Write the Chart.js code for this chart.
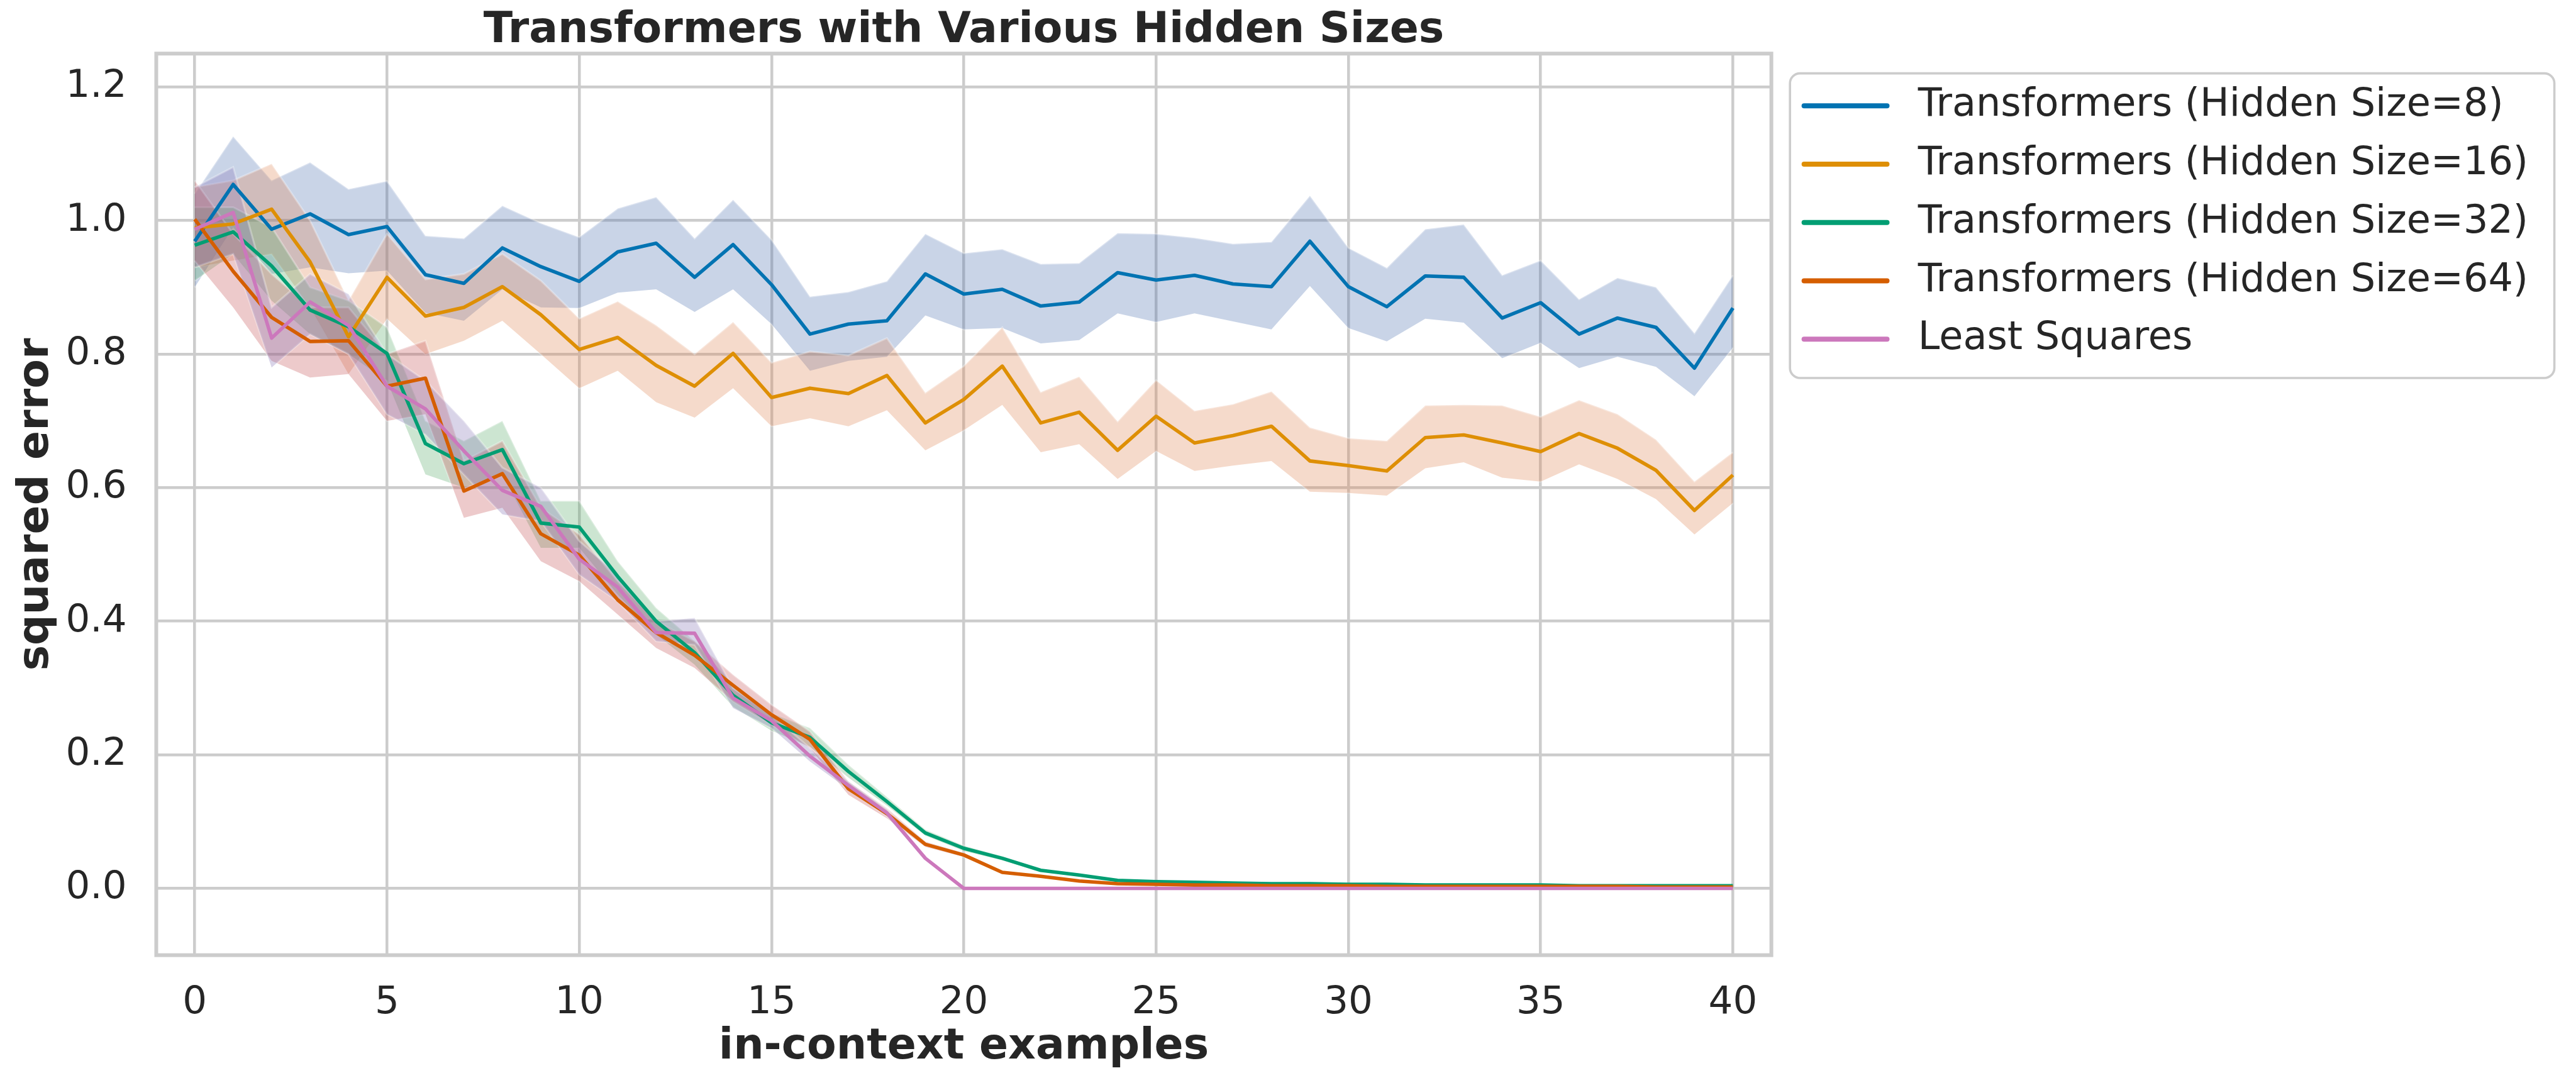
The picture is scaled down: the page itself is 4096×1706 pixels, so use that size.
<!DOCTYPE html>
<html>
<head>
<meta charset="utf-8">
<script src="https://cdn.jsdelivr.net/npm/chart.js@4.4.1/dist/chart.umd.min.js"></script>
<style>
  html, body { margin: 0; padding: 0; background: #fff; }
  #wrap { width: 4096px; height: 1706px; }
</style>
</head>
<body>
<div id="wrap"><canvas id="lossChart" width="4096" height="1706"></canvas></div>
<script>
const examples = [0, 1, 2, 3, 4, 5, 6, 7, 8, 9, 10, 11, 12, 13, 14, 15, 16, 17, 18, 19, 20,
  21, 22, 23, 24, 25, 26, 27, 28, 29, 30, 31, 32, 33, 34, 35, 36, 37, 38, 39, 40];
const xTicks = [0, 5, 10, 15, 20, 25, 30, 35, 40];
const yTicks = [0, 0.2, 0.4, 0.6, 0.8, 1.0, 1.2];

const seriesNames = [
  "Transformers (Hidden Size=8)",
  "Transformers (Hidden Size=16)",
  "Transformers (Hidden Size=32)",
  "Transformers (Hidden Size=64)",
  "Least Squares",
];

// mean curves
const h8Mean = [0.969, 1.054, 0.987, 1.010, 0.979, 0.991, 0.919, 0.906, 0.959, 0.931, 0.909,
  0.953, 0.966, 0.915, 0.964, 0.904, 0.830, 0.845, 0.850, 0.920, 0.890,
  0.897, 0.872, 0.878, 0.922, 0.911, 0.918, 0.905, 0.901, 0.969, 0.901,
  0.871, 0.917, 0.915, 0.854, 0.877, 0.830, 0.854, 0.840, 0.779, 0.869];
const h16Mean = [0.989, 0.995, 1.017, 0.938, 0.826, 0.915, 0.857, 0.870, 0.901, 0.859, 0.807,
  0.825, 0.783, 0.752, 0.801, 0.735, 0.749, 0.741, 0.768, 0.697, 0.732,
  0.782, 0.697, 0.713, 0.656, 0.707, 0.667, 0.678, 0.692, 0.640, 0.633,
  0.625, 0.675, 0.679, 0.667, 0.654, 0.681, 0.659, 0.626, 0.566, 0.619];
const h32Mean = [0.963, 0.983, 0.932, 0.866, 0.841, 0.801, 0.666, 0.636, 0.657, 0.547, 0.541,
  0.467, 0.400, 0.353, 0.289, 0.248, 0.226, 0.175, 0.130, 0.083, 0.060,
  0.045, 0.027, 0.020, 0.012, 0.010, 0.009, 0.008, 0.007, 0.007, 0.006,
  0.006, 0.005, 0.005, 0.005, 0.005, 0.004, 0.004, 0.004, 0.004, 0.004];
const h64Mean = [1.002, 0.924, 0.855, 0.819, 0.820, 0.752, 0.764, 0.595, 0.621, 0.531, 0.499,
  0.432, 0.383, 0.349, 0.304, 0.260, 0.223, 0.149, 0.112, 0.066, 0.050,
  0.024, 0.018, 0.011, 0.007, 0.006, 0.005, 0.005, 0.004, 0.004, 0.004,
  0.003, 0.003, 0.003, 0.003, 0.003, 0.003, 0.003, 0.002, 0.002, 0.002];
const lsMean = [0.987, 1.012, 0.824, 0.878, 0.843, 0.752, 0.718, 0.655, 0.596, 0.572, 0.493,
  0.451, 0.383, 0.382, 0.285, 0.251, 0.198, 0.154, 0.113, 0.045, 0,
  0, 0, 0, 0, 0, 0, 0, 0, 0, 0,
  0, 0, 0, 0, 0, 0, 0, 0, 0, 0];

// confidence bands (lower / upper)
const h8Lo = [0.900, 0.990, 0.920, 0.930, 0.921, 0.925, 0.862, 0.850, 0.897, 0.870, 0.869,
  0.892, 0.897, 0.863, 0.897, 0.845, 0.775, 0.790, 0.796, 0.858, 0.837,
  0.839, 0.816, 0.821, 0.861, 0.848, 0.861, 0.849, 0.837, 0.902, 0.839,
  0.819, 0.853, 0.847, 0.794, 0.817, 0.779, 0.796, 0.781, 0.737, 0.810];
const h8Hi = [1.040, 1.126, 1.060, 1.087, 1.047, 1.059, 0.977, 0.973, 1.022, 0.996, 0.975,
  1.018, 1.035, 0.973, 1.031, 0.971, 0.886, 0.893, 0.909, 0.980, 0.951,
  0.957, 0.935, 0.936, 0.981, 0.980, 0.974, 0.965, 0.968, 1.037, 0.959,
  0.929, 0.987, 0.994, 0.918, 0.940, 0.882, 0.914, 0.900, 0.831, 0.918];
const h16Lo = [0.930, 0.940, 0.950, 0.870, 0.770, 0.853, 0.800, 0.820, 0.850, 0.800, 0.749,
  0.775, 0.728, 0.705, 0.749, 0.692, 0.704, 0.692, 0.716, 0.656, 0.686,
  0.724, 0.653, 0.665, 0.613, 0.655, 0.625, 0.633, 0.640, 0.594, 0.592,
  0.588, 0.629, 0.638, 0.615, 0.609, 0.635, 0.613, 0.583, 0.530, 0.577];
const h16Hi = [1.050, 1.060, 1.085, 1.000, 0.880, 0.980, 0.912, 0.920, 0.950, 0.910, 0.853,
  0.879, 0.843, 0.800, 0.848, 0.787, 0.804, 0.798, 0.824, 0.742, 0.782,
  0.840, 0.743, 0.766, 0.699, 0.761, 0.715, 0.725, 0.744, 0.690, 0.674,
  0.670, 0.723, 0.724, 0.723, 0.706, 0.731, 0.710, 0.672, 0.609, 0.653];
const h32Lo = [0.910, 0.950, 0.880, 0.830, 0.800, 0.760, 0.620, 0.600, 0.620, 0.510, 0.510,
  0.440, 0.380, 0.335, 0.272, 0.236, 0.212, 0.166, 0.124, 0.079, 0.056,
  0.042, 0.025, 0.018, 0.011, 0.009, 0.008, 0.007, 0.006, 0.006, 0.005,
  0.005, 0.004, 0.004, 0.004, 0.004, 0.003, 0.003, 0.003, 0.003, 0.003];
const h32Hi = [1.020, 1.020, 0.990, 0.900, 0.880, 0.840, 0.700, 0.670, 0.700, 0.580, 0.580,
  0.490, 0.420, 0.370, 0.305, 0.262, 0.240, 0.185, 0.137, 0.088, 0.064,
  0.048, 0.029, 0.022, 0.013, 0.011, 0.010, 0.009, 0.008, 0.008, 0.007,
  0.007, 0.006, 0.006, 0.006, 0.006, 0.005, 0.005, 0.005, 0.005, 0.005];
const h64Lo = [0.940, 0.870, 0.790, 0.765, 0.770, 0.700, 0.710, 0.555, 0.570, 0.490, 0.460,
  0.410, 0.360, 0.330, 0.280, 0.245, 0.210, 0.140, 0.105, 0.062, 0.047,
  0.022, 0.016, 0.010, 0.006, 0.005, 0.004, 0.004, 0.003, 0.003, 0.003,
  0.002, 0.002, 0.002, 0.002, 0.002, 0.002, 0.002, 0.001, 0.001, 0.001];
const h64Hi = [1.060, 0.980, 0.920, 0.870, 0.870, 0.800, 0.820, 0.640, 0.670, 0.570, 0.530,
  0.460, 0.400, 0.370, 0.320, 0.275, 0.235, 0.160, 0.120, 0.070, 0.053,
  0.026, 0.020, 0.012, 0.008, 0.007, 0.006, 0.006, 0.005, 0.005, 0.005,
  0.004, 0.004, 0.004, 0.004, 0.004, 0.004, 0.004, 0.003, 0.003, 0.003];
const lsLo = [0.930, 0.950, 0.780, 0.830, 0.800, 0.710, 0.680, 0.620, 0.560, 0.550, 0.470,
  0.430, 0.370, 0.365, 0.270, 0.240, 0.190, 0.148, 0.108, 0.042, 0,
  0, 0, 0, 0, 0, 0, 0, 0, 0, 0,
  0, 0, 0, 0, 0, 0, 0, 0, 0, 0];
const lsHi = [1.050, 1.080, 0.870, 0.920, 0.890, 0.800, 0.760, 0.700, 0.630, 0.600, 0.520,
  0.470, 0.400, 0.405, 0.300, 0.260, 0.210, 0.160, 0.118, 0.048, 0,
  0, 0, 0, 0, 0, 0, 0, 0, 0, 0,
  0, 0, 0, 0, 0, 0, 0, 0, 0, 0];

// seaborn colorblind lines, "deep" bands at alpha .3
const lineColors = ["#0173B2", "#DE8F05", "#029E73", "#D55E00", "#CC78BC"];
const bandColors = [
  "rgba(76,114,176,0.3)",
  "rgba(221,132,82,0.3)",
  "rgba(85,168,104,0.3)",
  "rgba(196,78,82,0.3)",
  "rgba(129,114,179,0.3)",
];

const means = [h8Mean, h16Mean, h32Mean, h64Mean, lsMean];
const los = [h8Lo, h16Lo, h32Lo, h64Lo, lsLo];
const his = [h8Hi, h16Hi, h32Hi, h64Hi, lsHi];

const S = 0.897; // scale from reference pixels
const FONT = "'DejaVu Sans', sans-serif";
const TEXT = "#262626";

function pts(arr) {
  return examples.map((x, i) => ({ x: x, y: arr[i] }));
}

const datasets = [];
for (let k = 0; k < 5; k++) {
  datasets.push({
    label: "band-hi", band: true, data: pts(his[k]),
    borderColor: "rgba(255,255,255,0.3)", borderWidth: 3,
    backgroundColor: bandColors[k], fill: "+1", pointRadius: 0, order: 20 - k,
  });
  datasets.push({
    label: "band-lo", band: true, data: pts(los[k]),
    borderColor: "rgba(255,255,255,0.3)", borderWidth: 3,
    fill: false, pointRadius: 0, order: 20 - k,
  });
}
for (let k = 0; k < 5; k++) {
  datasets.push({
    label: seriesNames[k], data: pts(means[k]),
    borderColor: lineColors[k], borderWidth: 5.6, fill: false,
    pointRadius: 0, borderJoinStyle: "round", order: 5 - k,
  });
}

// box around the plot area, like the matplotlib spines
const frame = {
  id: "frame",
  afterDatasetsDraw(chart) {
    const a = chart.chartArea, ctx = chart.ctx;
    ctx.save();
    ctx.strokeStyle = "#cccccc";
    ctx.lineWidth = 6;
    ctx.strokeRect(a.left, a.top, a.right - a.left, a.bottom - a.top);
    ctx.restore();
  },
};

// legend outside the axes, top right
const boxLegend = {
  id: "boxLegend",
  afterDraw(chart) {
    const ctx = chart.ctx;
    const x = 3173 * S, y = 130 * S, w = (4528 - 3173) * S, h = (670 - 130) * S;
    ctx.save();
    ctx.beginPath();
    ctx.roundRect(x, y, w, h, 16);
    ctx.fillStyle = "rgba(255,255,255,0.8)";
    ctx.fill();
    ctx.strokeStyle = "#cccccc";
    ctx.lineWidth = 3.6;
    ctx.stroke();
    const items = chart.data.datasets.filter(d => !d.band);
    items.forEach((d, i) => {
      const ry = (187.6 + i * 103.4) * S;
      ctx.beginPath();
      ctx.moveTo(3198 * S, ry);
      ctx.lineTo(3345 * S, ry);
      ctx.strokeStyle = d.borderColor;
      ctx.lineWidth = 8;
      ctx.lineCap = "round";
      ctx.stroke();
      ctx.fillStyle = TEXT;
      ctx.font = "62px " + FONT;
      ctx.textAlign = "left";
      ctx.textBaseline = "middle";
      ctx.fillText(d.label, 3400 * S, ry);
    });
    ctx.restore();
  },
};

Chart.defaults.font.family = FONT;
Chart.defaults.color = TEXT;

const lossChart = new Chart(document.getElementById("lossChart"), {
  type: "line",
  data: { datasets: datasets },
  options: {
    responsive: false,
    animation: false,
    devicePixelRatio: 1,
    events: [],
    layout: {
      padding: { left: 0, top: 0, bottom: 0, right: 4096 - 3140 * S },
    },
    elements: { line: { tension: 0 } },
    scales: {
      x: {
        type: "linear",
        min: -1,
        max: 41,
        afterBuildTicks: (scale) => { scale.ticks = xTicks.map(v => ({ value: v })); },
        afterFit: (scale) => { scale.height = 1706 - 1693 * S; },
        grid: { color: "#cccccc", lineWidth: 4.5, drawTicks: false },
        border: { display: false },
        ticks: { font: { size: 61 }, color: TEXT, padding: 40, maxRotation: 0 },
        title: {
          display: true, text: "in-context examples", color: TEXT,
          font: { size: 68, weight: "bold" }, padding: { top: 0, bottom: 0 },
        },
      },
      y: {
        type: "linear",
        min: -0.1,
        max: 1.25,
        afterBuildTicks: (scale) => { scale.ticks = yTicks.map(v => ({ value: v })); },
        afterFit: (scale) => { scale.width = 277 * S; },
        grid: { color: "#cccccc", lineWidth: 4.5, drawTicks: false },
        border: { display: false },
        ticks: {
          font: { size: 61 }, color: TEXT, padding: 47,
          callback: (value) => Number(value).toFixed(1),
        },
        title: {
          display: true, text: "squared error", color: TEXT,
          font: { size: 68, weight: "bold" }, padding: { top: 18, bottom: 0 },
        },
      },
    },
    plugins: {
      legend: { display: false },
      tooltip: { enabled: false },
      title: {
        display: true,
        text: "Transformers with Various Hidden Sizes",
        color: TEXT,
        fullSize: false,
        font: { size: 68, weight: "bold", lineHeight: 1.05 },
        padding: { top: 95 * S - 71.4, bottom: 0 },
      },
    },
  },
  plugins: [frame, boxLegend],
});
</script>
</body>
</html>
